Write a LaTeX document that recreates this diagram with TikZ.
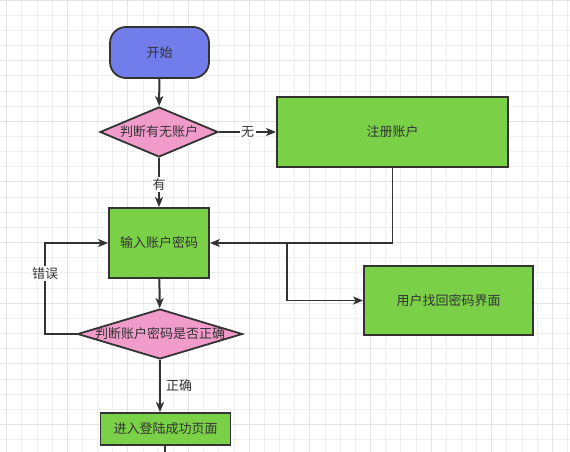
\documentclass[tikz,border=0pt]{standalone}
\usepackage{fontspec}
\setmainfont{Noto Sans CJK SC}
\usetikzlibrary{arrows.meta}
\usetikzlibrary{shapes.geometric}

\definecolor{ink}{HTML}{333333}
\definecolor{startblue}{HTML}{717DEB}
\definecolor{askpink}{HTML}{F09BC9}
\definecolor{boxgreen}{HTML}{7AD147}
\definecolor{gridminor}{HTML}{EFEFEF}
\definecolor{gridmajor}{HTML}{E4E4E4}

\begin{document}
\begin{tikzpicture}[x=1pt,y=-1pt,
        font=\fontsize{13}{15}\selectfont, text=ink,
        terminal/.style={draw=ink, line width=1.8pt, fill=startblue, rounded corners=16pt,
            minimum width=#1, minimum height=51pt, inner sep=0pt},
        decide/.style={diamond, draw=ink, line width=1.8pt, fill=askpink,
            minimum width=#1, minimum height=50pt, inner sep=0pt},
        stepbox/.style={draw=ink, line width=1.8pt, fill=boxgreen, inner sep=0pt},
        flow/.style={draw=ink, line width=2pt, -{Stealth[length=10pt,width=8pt,inset=2.5pt]}},
        thin flow/.style={draw=ink, line width=1.4pt, -{Stealth[length=10pt,width=8pt,inset=2.5pt]}},
        lbl/.style={fill=white, inner sep=1.5pt}]
        \useasboundingbox (0,0) rectangle (570,452);
        \fill[white] (0,0) rectangle (570,452);
        \begin{scope}
            \clip (0,0) rectangle (570,452);
            \foreach \k in {0,...,37}
                \draw[gridminor, line width=1pt] (6.7+\k*15.16,0) -- ++(0,452);
            \foreach \k in {0,...,29}
                \draw[gridminor, line width=1pt] (0,0.06+\k*15.16) -- ++(570,0);
            \foreach \k in {0,4,...,36}
                \draw[gridmajor, line width=1pt] (6.7+\k*15.16,0) -- ++(0,452);
            \foreach \k in {0,4,...,28}
                \draw[gridmajor, line width=1pt] (0,0.06+\k*15.16) -- ++(570,0);
        \end{scope}

        \node[terminal=99pt] (start) at (159.5,52.5) {开始};
        \node[decide=118pt] (ask) at (159,132) {\makebox[0pt]{判断有无账户}};
        \node[stepbox, minimum width=231pt, minimum height=70pt] (reg) at (392.5,132) {注册账户};
        \node[stepbox, minimum width=100pt, minimum height=70pt] (input) at (159,243) {输入账户密码};
        \node[decide=165pt] (check) at (160,334) {\makebox[0pt]{判断账户密码是否正确}};
        \node[stepbox, minimum width=169pt, minimum height=69pt] (find) at (448.5,300.5) {用户找回密码界面};
        \node[stepbox, minimum width=130pt, minimum height=32pt] (ok) at (165.5,429) {进入登陆成功页面};
        \coordinate (fork) at (287,243);
        \coordinate (loop) at (45,334);
        \coordinate (exit) at (165,452);

        \draw[flow] (start) -- (ask);
        \draw[thin flow] (ask) -- node[lbl] {无} (reg);
        \draw[flow] (ask) -- node[lbl, pos=0.55] {有} (input);
        \draw[thin flow] (reg.south) |- (input.east);
        \draw[thin flow] (fork) |- (find.west);
        \draw[flow] (input) -- (check);
        \draw[thin flow] (check.west) -- (loop) |- node[lbl, pos=0.33] {错误} (input.west);
        \draw[flow] (check.south) -- node[right, inner sep=5pt] {正确} (check.south |- ok.north);
        \draw[draw=ink, line width=1.4pt] (ok.south -| exit) -- (exit);
\end{tikzpicture}
\end{document}
